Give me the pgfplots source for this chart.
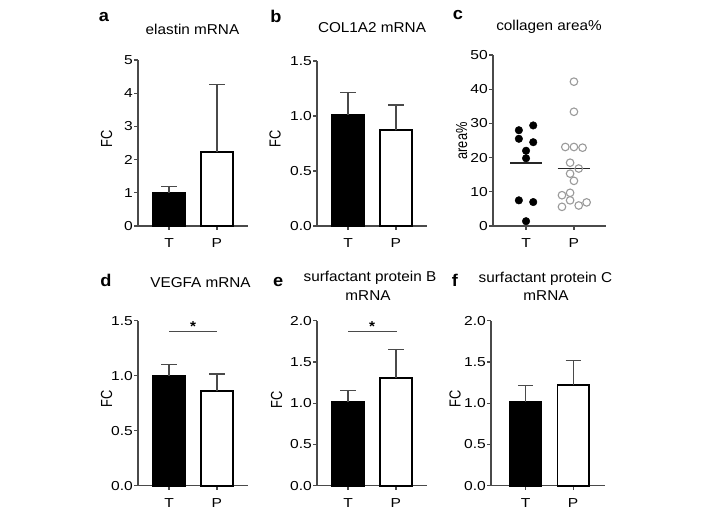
\documentclass[border=0pt]{standalone}
\usepackage{pgfplots}
\pgfplotsset{compat=1.18}
\usepackage{fontspec}
\setmainfont{Liberation Sans}[FakeStretch=1.07]
\newfontfamily\rotfont{Liberation Sans}[FakeStretch=0.8]
\newfontfamily\tickfont{Liberation Sans}[FakeStretch=1.2]
\newcommand\fs{\fontsize{13bp}{16bp}\tickfont}
\newcommand\ts{\fontsize{14.3bp}{17bp}\selectfont}
\definecolor{axgray}{HTML}{4A4A4A}
\definecolor{opengray}{HTML}{9A9A9A}
\pgfplotsset{
  panel/.style={
    scale only axis, anchor=south west, clip=false,
    axis x line*=bottom, axis y line*=left,
    axis line style={draw=axgray, line width=1.2bp},
    every tick/.style={draw=axgray, line width=1.2bp},
    tick align=outside, major tick length=4bp,
    xtick={0,1}, xticklabels={T,P},
    xmin=-0.65, xmax=1.65, ymin=0,
    enlargelimits=false,
    tick label style={font=\fs},
    xticklabel style={yshift=-5.5bp},
    yticklabel style={inner sep=1bp},
    /pgf/number format/assume math mode=true,
  },
  onedec/.style={yticklabel style={/pgf/number format/.cd, fixed, fixed zerofill, precision=1}},
  barT/.style={ybar, bar width=0.66, fill=black, draw=black, line width=1.8bp,
    error bars/.cd, y dir=plus, y explicit,
    error bar style={line width=1.2bp, draw=axgray},
    error mark options={rotate=90, mark size=7.6bp, line width=1.2bp, draw=axgray}},
  barP/.style={ybar, bar width=0.66, fill=white, draw=black, line width=1.8bp,
    error bars/.cd, y dir=plus, y explicit,
    error bar style={line width=1.2bp, draw=axgray},
    error mark options={rotate=90, mark size=7.6bp, line width=1.2bp, draw=axgray}},
}
\begin{document}
\begin{tikzpicture}[x=1bp,y=1bp]
\useasboundingbox (0,0) rectangle (711,511);
% ---------- a
\begin{axis}[panel, at={(138bp,285bp)}, width=110bp, height=166bp, ymax=5, ytick={0,1,2,3,4,5}]
\addplot[barT] coordinates {(0,1.0) +- (0,0.18)};
\addplot[barP] coordinates {(1,2.23) +- (0,2.02)};
\end{axis}
% ---------- b
\begin{axis}[panel, onedec, at={(317bp,285bp)}, width=110bp, height=165bp, ymax=1.5, ytick={0,0.5,1.0,1.5}]
\addplot[barT] coordinates {(0,1.01) +- (0,0.20)};
\addplot[barP] coordinates {(1,0.87) +- (0,0.23)};
\end{axis}
% ---------- c
\begin{axis}[panel, at={(493bp,285bp)}, width=113bp, height=171bp, xmin=-0.69, xmax=1.67, ymax=50, ytick={0,10,20,30,40,50}]
\addplot[only marks, mark=*, mark size=3.8bp, black] coordinates {
(-0.15,28.0) (0.15,29.4) (-0.15,25.5) (0.15,24.5) (0,22.0) (0,19.8) (-0.15,7.5) (0.15,7.0) (0,1.4)};
\addplot[only marks, mark=o, mark size=3.8bp, draw=opengray, mark options={line width=1.1bp, fill=white}] coordinates {
(1,42.2) (1,33.4) (0.82,23.1) (1,23.1) (1.18,22.9) (0.92,18.5) (1.1,16.8) (0.92,15.3) (1,13.2) (0.92,9.7) (0.75,9.0) (0.92,7.5) (1.265,6.9) (0.75,5.6) (1.1,6.0)};
\addplot[draw=black!85, line width=1.2bp] coordinates {(-0.33,18.4) (0.33,18.4)};
\addplot[draw=black!85, line width=1.2bp] coordinates {(0.66,16.9) (1.34,16.9)};
\end{axis}
% ---------- d
\begin{axis}[panel, onedec, at={(138bp,25.3bp)}, width=110bp, height=165bp, ymax=1.5, ytick={0,0.5,1.0,1.5}]
\addplot[barT] coordinates {(0,1.0) +- (0,0.105)};
\addplot[barP] coordinates {(1,0.86) +- (0,0.155)};
\draw[axgray, line width=1.2bp] (axis cs:0,1.405) -- (axis cs:1,1.405);
\node[font=\ts\bfseries, anchor=base, inner sep=0] at (axis cs:0.5,1.405) {*};
\end{axis}
% ---------- e
\begin{axis}[panel, onedec, at={(317bp,25.3bp)}, width=110bp, height=165bp, ymax=2, ytick={0,0.5,1.0,1.5,2.0}]
\addplot[barT] coordinates {(0,1.01) +- (0,0.14)};
\addplot[barP] coordinates {(1,1.31) +- (0,0.34)};
\draw[axgray, line width=1.2bp] (axis cs:0,1.87) -- (axis cs:1.03,1.87);
\node[font=\ts\bfseries, anchor=base, inner sep=0] at (axis cs:0.5,1.87) {*};
\end{axis}
% ---------- f
\begin{axis}[panel, onedec, at={(491bp,25.3bp)}, width=114bp, height=165bp, xmin=-0.73, xmax=1.67, ymax=2, ytick={0,0.5,1.0,1.5,2.0}]
\addplot[barT] coordinates {(0,1.02) +- (0,0.19)};
\addplot[barP] coordinates {(1,1.22) +- (0,0.30)};
\end{axis}
% ---------- text
\tikzset{pl/.style={font=\fontsize{17bp}{20bp}\selectfont\bfseries, inner sep=0},
         tl/.style={font=\ts, inner sep=0},
         yl/.style={font=\fontsize{16bp}{18bp}\selectfont\rotfont, inner sep=0, rotate=90}}
\node[pl] at (104,494.3) {a};
\node[pl] at (276,494.3) {b};
\node[pl] at (458,496) {c};
\node[pl] at (106,230.3) {d};
\node[pl] at (278.3,229.3) {e};
\node[pl] at (455,231) {f};
\node[tl] at (192.5,482) {elastin mRNA};
\node[tl] at (372,483.5) {COL1A2 mRNA};
\node[tl] at (549,484) {collagen area\%};
\node[tl] at (200.5,228) {VEGFA mRNA};
\node[tl] at (370,233) {surfactant protein B};
\node[tl] at (368,215) {mRNA};
\node[tl] at (545.5,232) {surfactant protein C};
\node[tl] at (546,215) {mRNA};
\node[yl] at (106.7,372) {FC};
\node[yl] at (275,372) {FC};
\node[yl] at (461.7,370) {area\%};
\node[yl] at (106.7,112) {FC};
\node[yl] at (276.7,111) {FC};
\node[yl] at (455,112) {FC};
\end{tikzpicture}
\end{document}
